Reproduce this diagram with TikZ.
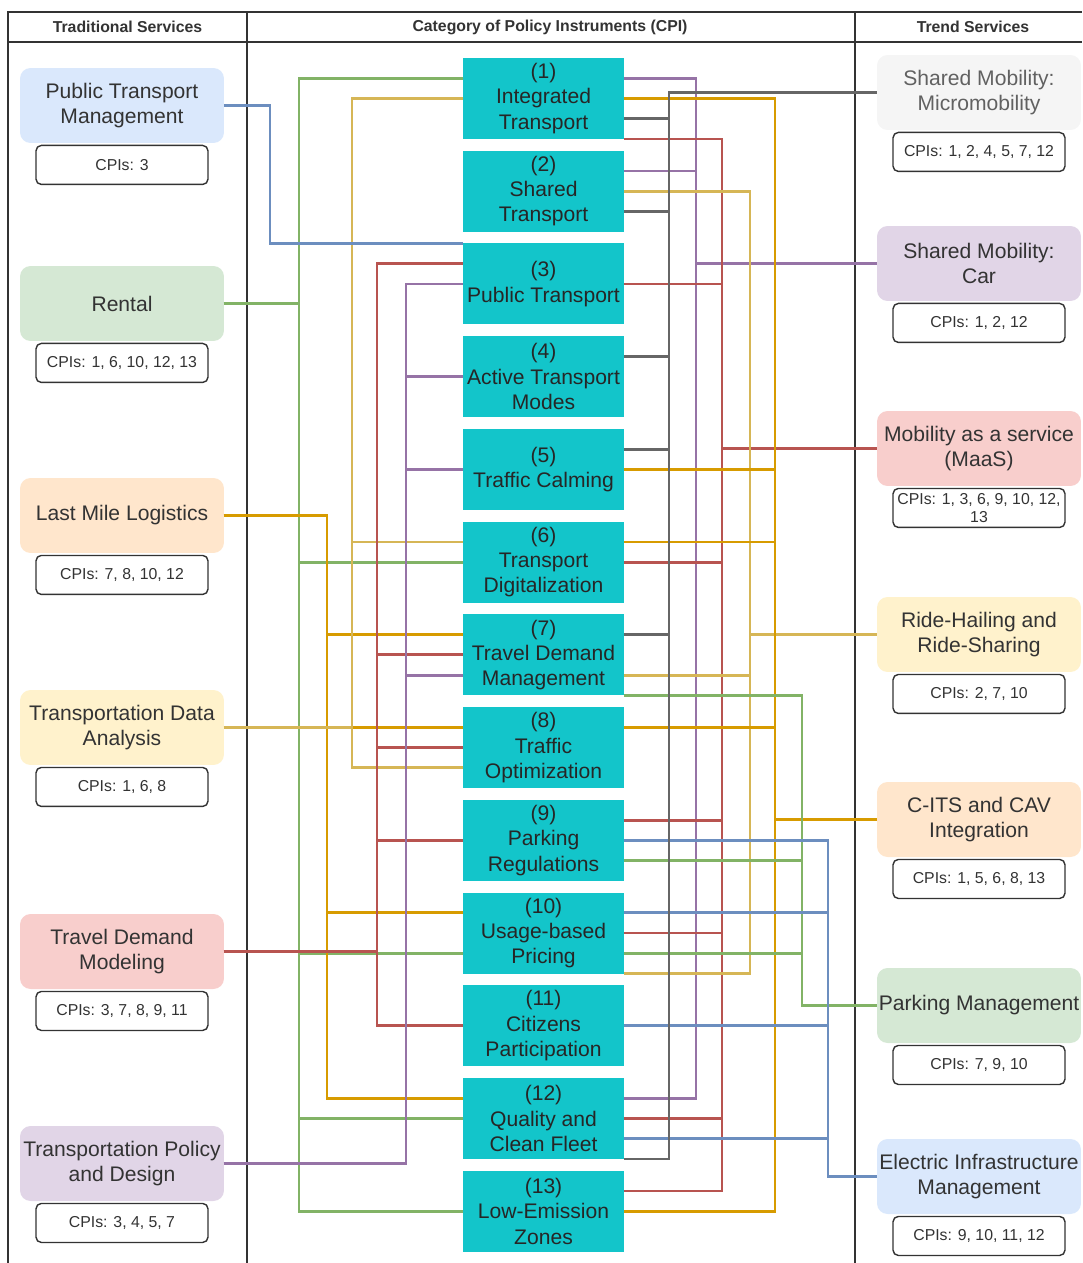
\documentclass[tikz,border=0pt]{standalone}
\usepackage{fontspec}
\setmainfont{Liberation Sans}
\usetikzlibrary{positioning,calc}

\definecolor{cpifill}{HTML}{13C5CA}
\definecolor{txt}{HTML}{333333}
\definecolor{fblue}{HTML}{DAE8FC}
\definecolor{fgreen}{HTML}{D5E8D4}
\definecolor{forange}{HTML}{FFE6CC}
\definecolor{fyellow}{HTML}{FFF2CC}
\definecolor{fred}{HTML}{F8CECC}
\definecolor{fpurple}{HTML}{E1D5E7}
\definecolor{fgray}{HTML}{F5F5F5}
\definecolor{lblue}{HTML}{6C8EBF}
\definecolor{lgreen}{HTML}{82B366}
\definecolor{lorange}{HTML}{D79B00}
\definecolor{lyellow}{HTML}{D6B656}
\definecolor{lred}{HTML}{B85450}
\definecolor{lpurple}{HTML}{9673A6}
\definecolor{lgray}{HTML}{666666}

\tikzset{
  frame/.style={draw=txt, line width=0.8pt},
  head/.style={font=\fontsize{9}{11}\selectfont\bfseries, text=txt},
  serv/.style={rounded corners=6pt, minimum width=4.08cm, minimum height=1.5cm,
    inner sep=1pt, outer sep=0pt, align=center, text=txt, font=\fontsize{12}{14.4}\selectfont},
  cpis/.style={draw=txt, line width=0.8pt, fill=white, rounded corners=3pt,
    minimum width=3.44cm, minimum height=0.78cm, inner sep=1pt, align=center,
    text=txt, font=\fontsize{9}{10.5}\selectfont},
  cat/.style={fill=cpifill, minimum width=3.22cm, minimum height=1.62cm,
    inner sep=0pt, outer sep=0pt, align=center, text=black!85, font=\fontsize{12}{14.4}\selectfont},
  wire/.style={line width=1.6pt}
}

\begin{document}
\begin{tikzpicture}[x=0.02cm,y=-0.02cm]
\useasboundingbox (0,0) rectangle (1082,1263);

% frame and headers
\draw[frame] (8,1263) -- (8,12) -- (1082,12);
\draw[frame] (8,42) -- (1082,42);
\draw[frame] (247,12) -- (247,1263);
\draw[frame] (855,12) -- (855,1263);
\node[head] (h1) at (127.5,27) {Traditional Services};
\node[head] (h2) at (550,27) {Category of Policy Instruments (CPI)};
\node[head] (h3) at (973,27) {Trend Services};

% policy instruments
\node[cat] (c1) at (543.5,98.5) {(1)\\Integrated\\Transport};
\node[cat, below=0.235cm of c1] (c2) {(2)\\Shared\\Transport};
\node[cat, below=0.235cm of c2] (c3) {(3)\\Public Transport};
\node[cat, below=0.235cm of c3] (c4) {(4)\\Active Transport\\Modes};
\node[cat, below=0.235cm of c4] (c5) {(5)\\Traffic Calming};
\node[cat, below=0.235cm of c5] (c6) {(6)\\Transport\\Digitalization};
\node[cat, below=0.235cm of c6] (c7) {(7)\\Travel Demand\\Management};
\node[cat, below=0.235cm of c7] (c8) {(8)\\Traffic\\Optimization};
\node[cat, below=0.235cm of c8] (c9) {(9)\\Parking\\Regulations};
\node[cat, below=0.235cm of c9] (c10) {(10)\\Usage-based\\Pricing};
\node[cat, below=0.235cm of c10] (c11) {(11)\\Citizens\\Participation};
\node[cat, below=0.235cm of c11] (c12) {(12)\\Quality and\\Clean Fleet};
\node[cat, below=0.235cm of c12] (c13) {(13)\\Low-Emission\\Zones};

% traditional services
\node[serv, fill=fblue] (t1) at (122,105.5) {Public Transport\\Management};
\node[cpis, below=1pt of t1] (t1c) {CPIs: 3};
\node[serv, fill=fgreen] (t2) at (122,303.5) {Rental};
\node[cpis, below=1pt of t2] (t2c) {CPIs: 1, 6, 10, 12, 13};
\node[serv, fill=forange] (t3) at (122,515.5) {Last Mile Logistics};
\node[cpis, below=1pt of t3] (t3c) {CPIs: 7, 8, 10, 12};
\node[serv, fill=fyellow] (t4) at (122,727.5) {Transportation Data\\Analysis};
\node[cpis, below=1pt of t4] (t4c) {CPIs: 1, 6, 8};
\node[serv, fill=fred] (t5) at (122,951.5) {Travel Demand\\Modeling};
\node[cpis, below=1pt of t5] (t5c) {CPIs: 3, 7, 8, 9, 11};
\node[serv, fill=fpurple] (t6) at (122,1163.5) {Transportation Policy\\and Design};
\node[cpis, below=1pt of t6] (t6c) {CPIs: 3, 4, 5, 7};

% trend services
\node[serv, fill=fgray, text=black!62] (s1) at (979,92.5) {Shared Mobility:\\Micromobility};
\node[cpis, below=1pt of s1] (s1c) {CPIs: 1, 2, 4, 5, 7, 12};
\node[serv, fill=fpurple] (s2) at (979,263.5) {Shared Mobility:\\Car};
\node[cpis, below=1pt of s2] (s2c) {CPIs: 1, 2, 12};
\node[serv, fill=fred] (s3) at (979,448.5) {Mobility as a service\\(MaaS)};
\node[cpis, below=1pt of s3] (s3c) {CPIs: 1, 3, 6, 9, 10, 12,\\13};
\node[serv, fill=fyellow] (s4) at (979,634.5) {Ride-Hailing and\\Ride-Sharing};
\node[cpis, below=1pt of s4] (s4c) {CPIs: 2, 7, 10};
\node[serv, fill=forange] (s5) at (979,819.5) {C-ITS and CAV\\Integration};
\node[cpis, below=1pt of s5] (s5c) {CPIs: 1, 5, 6, 8, 13};
\node[serv, fill=fgreen] (s6) at (979,1005.5) {Parking Management};
\node[cpis, below=1pt of s6] (s6c) {CPIs: 7, 9, 10};
\node[serv, fill=fblue] (s7) at (979,1176.5) {Electric Infrastructure\\Management};
\node[cpis, below=1pt of s7] (s7c) {CPIs: 9, 10, 11, 12};

% bus columns
\coordinate (bt1) at (270,0);
\coordinate (bt2) at (299,0);
\coordinate (bt3) at (327,0);
\coordinate (bt4) at (352,0);
\coordinate (bt5) at (377,0);
\coordinate (bt6) at (406,0);
\coordinate (bs1) at (669,0);
\coordinate (bs2) at (696,0);
\coordinate (bs3) at (722,0);
\coordinate (bs4) at (750,0);
\coordinate (bs5) at (775,0);
\coordinate (bs6) at (802,0);
\coordinate (bs7) at (828,0);

% left wiring
\foreach \n/\f in {1/.25,6/.5,10/.75,12/.5,13/.5}
  \draw[wire,lgreen] (t2.east) -- (t2.east -| bt2) |- ($(c\n.north west)!\f!(c\n.south west)$);
\foreach \n/\f in {7/.25,8/.25,10/.25,12/.25}
  \draw[wire,lorange] (t3.east) -- (t3.east -| bt3) |- ($(c\n.north west)!\f!(c\n.south west)$);
\foreach \n/\f in {1/.5,6/.25,8/.75}
  \draw[wire,lyellow] (t4.east) -- (t4.east -| bt4) |- ($(c\n.north west)!\f!(c\n.south west)$);
\foreach \n/\f in {3/.25,7/.5,8/.5,9/.5,11/.5}
  \draw[wire,lred] (t5.east) -- (t5.east -| bt5) |- ($(c\n.north west)!\f!(c\n.south west)$);
\foreach \n/\f in {3/.5,4/.5,5/.5,7/.75}
  \draw[wire,lpurple] (t6.east) -- (t6.east -| bt6) |- ($(c\n.north west)!\f!(c\n.south west)$);
\draw[wire,lblue] (t1.east) -- (t1.east -| bt1) |- (c3.north west);

% right wiring
\foreach \n/\f in {1/.25,2/.25,12/.25}
  \draw[wire,lpurple] ($(c\n.north east)!\f!(c\n.south east)$) -| (bs2 |- s2.west) -- (s2.west);
\foreach \n/\f in {1/1,3/.5,6/.5,9/.25,10/.5,12/.5,13/.25}
  \draw[wire,lred] ($(c\n.north east)!\f!(c\n.south east)$) -| (bs3 |- s3.west) -- (s3.west);
\foreach \n/\f in {2/.5,7/.75,10/1}
  \draw[wire,lyellow] ($(c\n.north east)!\f!(c\n.south east)$) -| (bs4 |- s4.west) -- (s4.west);
\foreach \n/\f in {1/.5,5/.5,6/.25,8/.25,13/.5}
  \draw[wire,lorange] ($(c\n.north east)!\f!(c\n.south east)$) -| (bs5 |- s5.west) -- (s5.west);
\foreach \n/\f in {7/1,9/.75,10/.75}
  \draw[wire,lgreen] ($(c\n.north east)!\f!(c\n.south east)$) -| (bs6 |- s6.west) -- (s6.west);
\foreach \n/\f in {9/.5,10/.25,11/.5,12/.75}
  \draw[wire,lblue] ($(c\n.north east)!\f!(c\n.south east)$) -| (bs7 |- s7.west) -- (s7.west);
\foreach \n/\f in {1/.75,2/.75,4/.25,5/.25,7/.25,12/1}
  \draw[wire,lgray] ($(c\n.north east)!\f!(c\n.south east)$) -| (bs1 |- s1.west) -- (s1.west);

\end{tikzpicture}
\end{document}
